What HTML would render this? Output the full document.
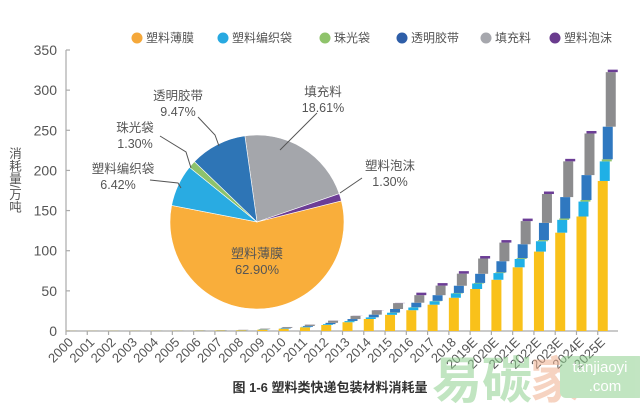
<!DOCTYPE html>
<html><head><meta charset="utf-8"><style>
html,body{margin:0;padding:0;background:#fff;width:640px;height:405px;overflow:hidden}
svg{display:block;font-family:"Liberation Sans","Noto Sans CJK SC",sans-serif}
</style></head><body>
<svg id="s" width="640" height="405" viewBox="0 0 640 405">
<g font-size="12" fill="#555">
<circle cx="137" cy="38" r="5.5" fill="#f5a83a"/><text x="146" y="42">塑料薄膜</text>
<circle cx="223" cy="38" r="5.5" fill="#27a9e1"/><text x="232" y="42">塑料编织袋</text>
<circle cx="325" cy="38" r="5.5" fill="#8fc36b"/><text x="334" y="42">珠光袋</text>
<circle cx="402" cy="38" r="5.5" fill="#2e5ea8"/><text x="411" y="42">透明胶带</text>
<circle cx="486" cy="38" r="5.5" fill="#a6a7ad"/><text x="495" y="42">填充料</text>
<circle cx="555" cy="38" r="5.5" fill="#6a3c8e"/><text x="564" y="42">塑料泡沫</text>
</g>
<g id="axes" stroke="#aaa" stroke-width="1.2" fill="none">
<path d="M66 50 V331 H618"/>
</g>
<g font-size="14" fill="#555" text-anchor="end" id="yl"></g>
<text x="14" y="180" font-size="12.5" fill="#555" style="writing-mode:vertical-rl;glyph-orientation-vertical:0" text-anchor="middle">消耗量/万吨</text>
<g id="bars"></g>
<g id="xl" font-size="13" fill="#555" text-anchor="end"></g>
<g id="pie"></g>
<g stroke="#555" stroke-width="1" fill="none">
<path d="M280 150 L317 113"/><path d="M340 193 L362 178"/>
<path d="M198 117 L215 135 L219 146"/><path d="M160 136 L186 152 L191 168"/>
<path d="M150 180 L178 183 L181 188"/>
</g>
<g font-size="12.5" fill="#555" text-anchor="middle">
<text x="323" y="96">填充料</text><text x="323" y="112">18.61%</text>
<text x="390" y="170">塑料泡沫</text><text x="390" y="186">1.30%</text>
<text x="178" y="100">透明胶带</text><text x="178" y="116">9.47%</text>
<text x="135" y="132">珠光袋</text><text x="135" y="148">1.30%</text>
<text x="123" y="173">塑料编织袋</text><text x="118" y="189">6.42%</text>
<text x="257" y="258" font-size="13">塑料薄膜</text><text x="257" y="274" font-size="13">62.90%</text>
</g>
<text x="330" y="392" font-size="13" font-weight="bold" fill="#333" text-anchor="middle">图 1-6 塑料类快递包装材料消耗量</text>
<g opacity="0.55">
<text x="432" y="398" font-size="50" fill="#8fd08f" font-weight="bold">易碳</text>
<text x="530" y="398" font-size="50" fill="#f0b090" font-weight="bold">家</text>
<rect x="560" y="356" width="85" height="42" rx="6" fill="#8fd08f"/>
<text x="600" y="372" font-size="15" fill="#fff" text-anchor="middle">tanjiaoyi</text>
<text x="605" y="391" font-size="15" fill="#fff" text-anchor="middle">.com</text>
</g>
</svg>
<script>
var NS="http://www.w3.org/2000/svg";
function el(t,a,p){var e=document.createElementNS(NS,t);for(var k in a)e.setAttribute(k,a[k]);document.getElementById(p).appendChild(e);return e;}
var y0=331,sc=(331-50)/350;
for(var v=0;v<=350;v+=50){var y=y0-v*sc;var t=el("text",{x:57,y:y+5},"yl");t.textContent=v;el("line",{x1:66,x2:70,y1:y,y2:y,stroke:"#aaa"},"axes");}
var labs=[],tot=[.3,.3,.4,.4,.5,.6,.8,1,1.5,3,5,8,13,19,26,35,45,57,72,91,111,138,172,213,248,325];
for(var i=0;i<26;i++){labs.push(i<19?String(2000+i):(2000+i)+"E");}
var fr=[.575,.075,.008,.125,.209,.008],col=["#f9c11a","#1fb0e6","#8dc26c","#2f78c0","#8c8c8e","#6c3d96"],off=[0,2,4,5,8,10];
for(var i=0;i<26;i++){var x=66+i*21.27;el("line",{x1:x,x2:x,y1:331,y2:335,stroke:"#aaa"},"axes");
var acc=0;for(var k=0;k<6;k++){var h=tot[i]*fr[k]*sc;if(k==5)h=Math.max(h,tot[i]>40?2.5:0);var yt=y0-acc-h;
el("rect",{x:x+off[k]*Math.min(1,tot[i]/20+0.2),y:yt,width:10,height:h,fill:col[k]},"bars");acc+=h;}
var tx=el("text",{transform:"translate("+(x+8)+",343) rotate(-45)"},"xl");tx.textContent=labs[i];}
var cx=257,cy=222,r=87;
var sl=[[-8,71,"#a4a6ab"],[71,76,"#6c3d96"],[76,281,"#f9ae3b"],[281,309,"#29abe2"],[309,314,"#8dc26c"],[314,352,"#2e75b6"]];
function pt(a){a=a*Math.PI/180;return [cx+r*Math.sin(a),cy-r*Math.cos(a)];}
sl.forEach(function(s){var p=pt(s[0]),q=pt(s[1]);var lg=(s[1]-s[0])>180?1:0;
el("path",{d:"M"+cx+" "+cy+" L"+p[0]+" "+p[1]+" A"+r+" "+r+" 0 "+lg+" 1 "+q[0]+" "+q[1]+"Z",fill:s[2],stroke:"#fff","stroke-width":0.6},"pie");});
</script>
</body></html>
